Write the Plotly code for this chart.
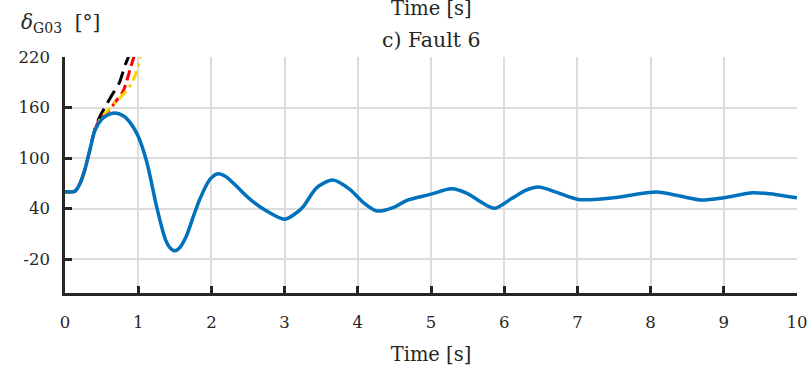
import plotly.graph_objects as go

# Stable trajectory (blue)
t_blue = [0, 0.1, 0.14, 0.2, 0.27, 0.34, 0.41, 0.5, 0.58, 0.68, 0.8, 0.9, 1.0, 1.12, 1.25, 1.37, 1.44, 1.5,
          1.56, 1.66, 1.75, 1.84, 1.98, 2.09, 2.2, 2.35, 2.53, 2.76, 3.0, 3.19, 3.26, 3.44, 3.66,
          3.89, 4.08, 4.26, 4.5, 4.67, 4.99, 5.28, 5.5, 5.7, 5.87, 6.1, 6.3, 6.47, 6.7, 7.01,
          7.49, 8.08, 8.4, 8.7, 9.0, 9.4, 9.7, 10]
d_blue = [60, 60, 61, 69, 86, 110, 133, 146, 151, 153.5, 150, 141, 126, 94.5, 43, 4, -7, -10,
          -7, 8, 30, 51, 74.7, 81.5, 78, 66, 51, 37, 27.5, 37, 43, 65, 74,
          63, 47, 37.3, 42, 50, 57, 63.7, 58, 47, 40.5, 52, 62, 65.7, 60, 51,
          53, 59.8, 55, 50.3, 53, 59, 57, 53]

# Unstable trajectories
t_black = [0, 0.1, 0.14, 0.2, 0.27, 0.34, 0.41, 0.48, 0.55, 0.65, 0.74, 0.82, 0.865, 0.9]
d_black = [60, 60, 61, 69, 86, 110, 135, 150, 161, 176, 189, 210, 220, 232]
t_red = [0, 0.1, 0.14, 0.2, 0.27, 0.34, 0.41, 0.48, 0.605, 0.7, 0.797, 0.9, 0.94, 0.98]
d_red = [60, 60, 61, 69, 86, 110, 134, 147, 157, 168, 180, 208.6, 220, 230]
t_yel = [0, 0.1, 0.14, 0.2, 0.27, 0.34, 0.41, 0.48, 0.583, 0.7, 0.82, 0.91, 0.98, 1.03, 1.06]
d_yel = [60, 60, 61, 69, 86, 110, 133, 146, 156.6, 167, 177.8, 189, 203, 220, 230]

x_ticks = list(range(0, 11))
y_ticks = [-20, 40, 100, 160, 220]
y_tick_labels = ["-20", "40", "100", "160", "220"]

FONT = "DejaVu Serif"
TXT = "#262626"

fig = go.Figure()
fig.add_trace(go.Scatter(x=t_black, y=d_black, mode="lines",
                         line=dict(color="black", width=3, dash="14px,7px", shape="spline", smoothing=0.8)))
fig.add_trace(go.Scatter(x=t_red, y=d_red, mode="lines",
                         line=dict(color="#FF0000", width=3, dash="10px,5px", shape="spline", smoothing=0.8)))
fig.add_trace(go.Scatter(x=t_yel, y=d_yel, mode="lines",
                         line=dict(color="#FFD100", width=3, dash="10px,5px,3px,5px", shape="spline", smoothing=0.8)))
fig.add_trace(go.Scatter(x=t_blue, y=d_blue, mode="lines",
                         line=dict(color="#0072BD", width=3.5, shape="spline", smoothing=0.8)))

fig.update_layout(
    width=811, height=366,
    margin=dict(l=65, r=14, t=57, b=73),
    plot_bgcolor="white", paper_bgcolor="white",
    showlegend=False,
    font=dict(family=FONT, size=16.5, color=TXT),
)
fig.update_xaxes(
    range=[0, 10], tickvals=x_ticks, ticks="inside", ticklen=7, tickwidth=3, tickcolor=TXT,
    showline=True, linewidth=2.5, linecolor=TXT, showgrid=True, gridcolor="#dcdcdc", gridwidth=1.5,
    zeroline=False, ticklabelstandoff=12, tickfont=dict(size=16.5), automargin=False,
    title=dict(text="Time [s]", standoff=18, font=dict(size=19.5)),
)
fig.update_yaxes(
    range=[-60, 220], tickvals=y_ticks, ticktext=y_tick_labels, ticks="inside", ticklen=7, tickwidth=3,
    tickcolor=TXT, showline=True, linewidth=2.5, linecolor=TXT, showgrid=True, gridcolor="#dcdcdc",
    gridwidth=1.5, zeroline=False, ticklabelstandoff=9, tickfont=dict(size=16.5), automargin=False,
)
fig.add_annotation(text="c) Fault 6", xref="paper", yref="paper", x=0.5, y=1.072, xanchor="center",
                   yanchor="middle", showarrow=False, font=dict(size=20.5))
fig.add_annotation(text="Time [s]", xref="paper", yref="paper", x=0.5, y=1.205, xanchor="center",
                   yanchor="middle", showarrow=False, font=dict(size=19.5))
fig.add_annotation(text="<i>δ</i><sub>G03</sub>  [°]", xref="paper", yref="paper", x=-0.0055, y=1.145,
                   xanchor="center", yanchor="middle", showarrow=False, font=dict(size=20))

fig.write_html("out.html", config={"displayModeBar": False},
               post_script="document.body.style.margin='0';")
